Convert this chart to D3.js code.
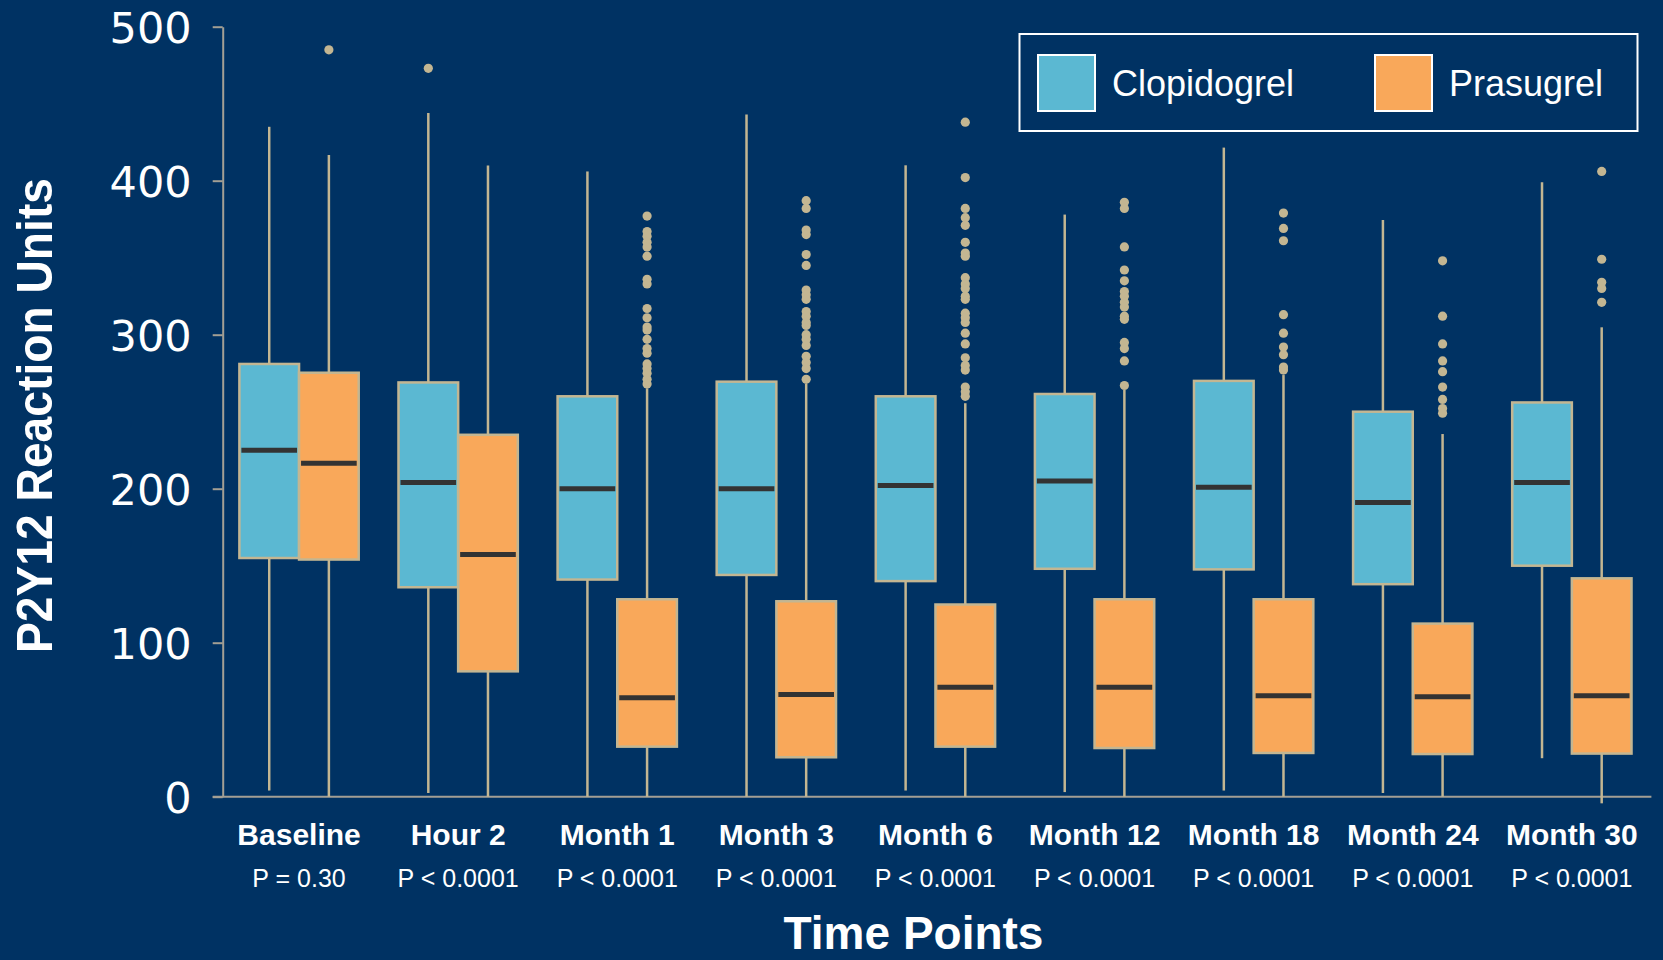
<!DOCTYPE html>
<html>
<head>
<meta charset="utf-8">
<script src="https://cdn.jsdelivr.net/npm/d3@7"></script>
<style>
  html, body { margin: 0; padding: 0; background: #003263; }
  svg { display: block; }
</style>
</head>
<body>
<svg id="chart" width="1663" height="960"></svg>
<script>
// ---- data -------------------------------------------------------------
const timePoints = ["Baseline", "Hour 2", "Month 1", "Month 3", "Month 6",
                    "Month 12", "Month 18", "Month 24", "Month 30"];
const pValues = ["P = 0.30", "P < 0.0001", "P < 0.0001", "P < 0.0001", "P < 0.0001",
                 "P < 0.0001", "P < 0.0001", "P < 0.0001", "P < 0.0001"];
const drugs = ["Clopidogrel", "Prasugrel"];
const yTicks = [0, 100, 200, 300, 400, 500];

// [lower whisker, Q1, median, Q3, upper whisker] per time point
const clopidogrelStats = [
  [4, 155, 225, 281, 435],
  [2.4, 136, 204, 269, 444],
  [0, 141, 200, 260, 406],
  [0, 144, 200, 269.5, 443],
  [4, 140, 202, 260, 410],
  [3, 148, 205, 261.5, 378],
  [4, 147.6, 201, 270, 421.5],
  [2.4, 138, 191, 250, 374.5],
  [25, 150, 204, 256, 399]
];
const prasugrelStats = [
  [0, 154, 216.5, 275.3, 416.7],
  [0, 81.4, 157.2, 235, 409.8],
  [0, 32.5, 64.2, 128.2, 265.2],
  [0, 25.6, 66.3, 126.9, 268],
  [0, 32.5, 71.1, 124.8, 255.5],
  [0, 31.6, 71.1, 128.2, 264.1],
  [0, 28.4, 65.6, 128.2, 273.8],
  [0, 27.7, 64.9, 112.4, 235.5],
  [-4.3, 28, 65.6, 141.8, 304.8]
];

// outlying observations per time point
const clopidogrelOutliers = [[], [473], [], [], [], [], [], [], []];
const prasugrelOutliers = [
  [485],
  [],
  [377, 367, 364, 360, 357, 351, 336, 333, 317, 311, 305, 303, 297, 291, 288, 281, 278, 275, 271, 268],
  [387, 382, 368, 365, 352, 345, 329, 326, 323, 315, 312, 308, 306, 300, 297, 293, 286, 282, 278, 271],
  [438, 402, 382, 376, 371, 360, 353, 351, 337, 333, 330, 325, 323, 314, 311, 308, 301, 294, 285, 280, 277, 266, 263, 260],
  [386, 382, 357, 342, 335, 328, 325, 321, 318, 312, 310, 295, 291, 283, 267],
  [379, 369, 361, 313, 301, 292, 287, 279, 277],
  [348, 312, 294, 283, 276, 266, 258, 252, 249],
  [406, 349, 334, 330, 321]
];

// ---- styling ----------------------------------------------------------
const colors = { "Clopidogrel": "#5bb8d2", "Prasugrel": "#f9a85a" };
const tan = "#c3b692";
const axisGrey = "#a39f94";
const medianColor = "#333333";

// ---- scales -----------------------------------------------------------
const svg = d3.select("#chart");
const axisX = 222.7;

const x = d3.scaleBand()
  .domain(timePoints)
  .range([219.5, 1651.4])
  .paddingInner(0.25)
  .paddingOuter(0.125);

const xDrug = d3.scaleBand()
  .domain(drugs)
  .range([0, x.bandwidth()])
  .padding(0);

const y = d3.scaleLinear().domain([0, 500]).range([796.7, 26.7]);

// ---- axes -------------------------------------------------------------
const yAxis = svg.append("g")
  .attr("transform", `translate(${axisX},0)`)
  .call(d3.axisLeft(y).tickValues(yTicks).tickSize(10).tickSizeOuter(0).tickPadding(21));
yAxis.select(".domain").attr("stroke", axisGrey).attr("stroke-width", 2);
yAxis.selectAll(".tick line").attr("stroke", axisGrey).attr("stroke-width", 2);
yAxis.selectAll(".tick text")
  .attr("fill", "#ffffff")
  .attr("font-family", "DejaVu Sans")
  .attr("font-size", 43)
  .attr("dy", "0.36em");

// baseline of the plot
svg.append("line")
  .attr("x1", axisX - 10).attr("x2", x.range()[1])
  .attr("y1", y(0)).attr("y2", y(0))
  .attr("stroke", axisGrey).attr("stroke-width", 2);

// ---- box plots --------------------------------------------------------
const boxes = [];
timePoints.forEach((tp, i) => {
  boxes.push({ tp, drug: "Clopidogrel", s: clopidogrelStats[i], out: clopidogrelOutliers[i] });
  boxes.push({ tp, drug: "Prasugrel", s: prasugrelStats[i], out: prasugrelOutliers[i] });
});

const bw = xDrug.bandwidth();
const g = svg.append("g");
const box = g.selectAll("g.box").data(boxes).join("g")
  .attr("class", "box")
  .attr("transform", d => `translate(${x(d.tp) + xDrug(d.drug)},0)`);

// whiskers
box.append("line")
  .attr("x1", bw / 2).attr("x2", bw / 2)
  .attr("y1", d => y(d.s[0])).attr("y2", d => y(d.s[1]))
  .attr("stroke", tan).attr("stroke-width", 2.5);
box.append("line")
  .attr("x1", bw / 2).attr("x2", bw / 2)
  .attr("y1", d => y(d.s[3])).attr("y2", d => y(d.s[4]))
  .attr("stroke", tan).attr("stroke-width", 2.5);

// interquartile box
box.append("rect")
  .attr("x", 0).attr("width", bw)
  .attr("y", d => y(d.s[3]))
  .attr("height", d => y(d.s[1]) - y(d.s[3]))
  .attr("fill", d => colors[d.drug])
  .attr("stroke", tan).attr("stroke-width", 2.5);

// median
box.append("line")
  .attr("x1", 2).attr("x2", bw - 2)
  .attr("y1", d => y(d.s[2])).attr("y2", d => y(d.s[2]))
  .attr("stroke", medianColor).attr("stroke-width", 5);

// outliers
box.selectAll("circle").data(d => d.out).join("circle")
  .attr("cx", bw / 2)
  .attr("cy", v => y(v))
  .attr("r", 4.6)
  .attr("fill", tan);

// ---- category labels --------------------------------------------------
const labels = svg.append("g");
labels.selectAll("text.cat").data(timePoints).join("text")
  .attr("class", "cat")
  .attr("x", d => x(d) + x.bandwidth() / 2)
  .attr("y", 845)
  .attr("text-anchor", "middle")
  .attr("fill", "#ffffff")
  .attr("font-family", "Liberation Sans, Arial, sans-serif")
  .attr("font-weight", "bold")
  .attr("font-size", 30)
  .text(d => d);

labels.selectAll("text.pv").data(timePoints).join("text")
  .attr("class", "pv")
  .attr("x", d => x(d) + x.bandwidth() / 2)
  .attr("y", 886.5)
  .attr("text-anchor", "middle")
  .attr("fill", "#ffffff")
  .attr("font-family", "Liberation Sans, Arial, sans-serif")
  .attr("font-size", 25)
  .text((d, i) => pValues[i]);

// ---- axis titles ------------------------------------------------------
svg.append("text")
  .attr("x", 913.5).attr("y", 949)
  .attr("text-anchor", "middle")
  .attr("fill", "#ffffff")
  .attr("font-family", "Liberation Sans, Arial, sans-serif")
  .attr("font-weight", "bold")
  .attr("font-size", 46)
  .text("Time Points");

svg.append("text")
  .attr("transform", "translate(51.5,415.5) rotate(-90)")
  .attr("text-anchor", "middle")
  .attr("fill", "#ffffff")
  .attr("font-family", "Liberation Sans, Arial, sans-serif")
  .attr("font-weight", "bold")
  .attr("font-size", 50)
  .attr("textLength", 475)
  .attr("lengthAdjust", "spacingAndGlyphs")
  .text("P2Y12 Reaction Units");

// ---- legend -----------------------------------------------------------
const legend = svg.append("g");
legend.append("rect")
  .attr("x", 1019.5).attr("y", 34)
  .attr("width", 618).attr("height", 97)
  .attr("fill", "none")
  .attr("stroke", "#ffffff").attr("stroke-width", 2);

const legendX = { "Clopidogrel": 1038, "Prasugrel": 1375 };
const item = legend.selectAll("g.item").data(drugs).join("g")
  .attr("class", "item")
  .attr("transform", d => `translate(${legendX[d]},55)`);
item.append("rect")
  .attr("width", 57).attr("height", 56)
  .attr("fill", d => colors[d])
  .attr("stroke", "#ffffff").attr("stroke-width", 2);
item.append("text")
  .attr("x", 74).attr("y", 41)
  .attr("fill", "#ffffff")
  .attr("font-family", "Liberation Sans, Arial, sans-serif")
  .attr("font-size", 36)
  .text(d => d);
</script>
</body>
</html>
